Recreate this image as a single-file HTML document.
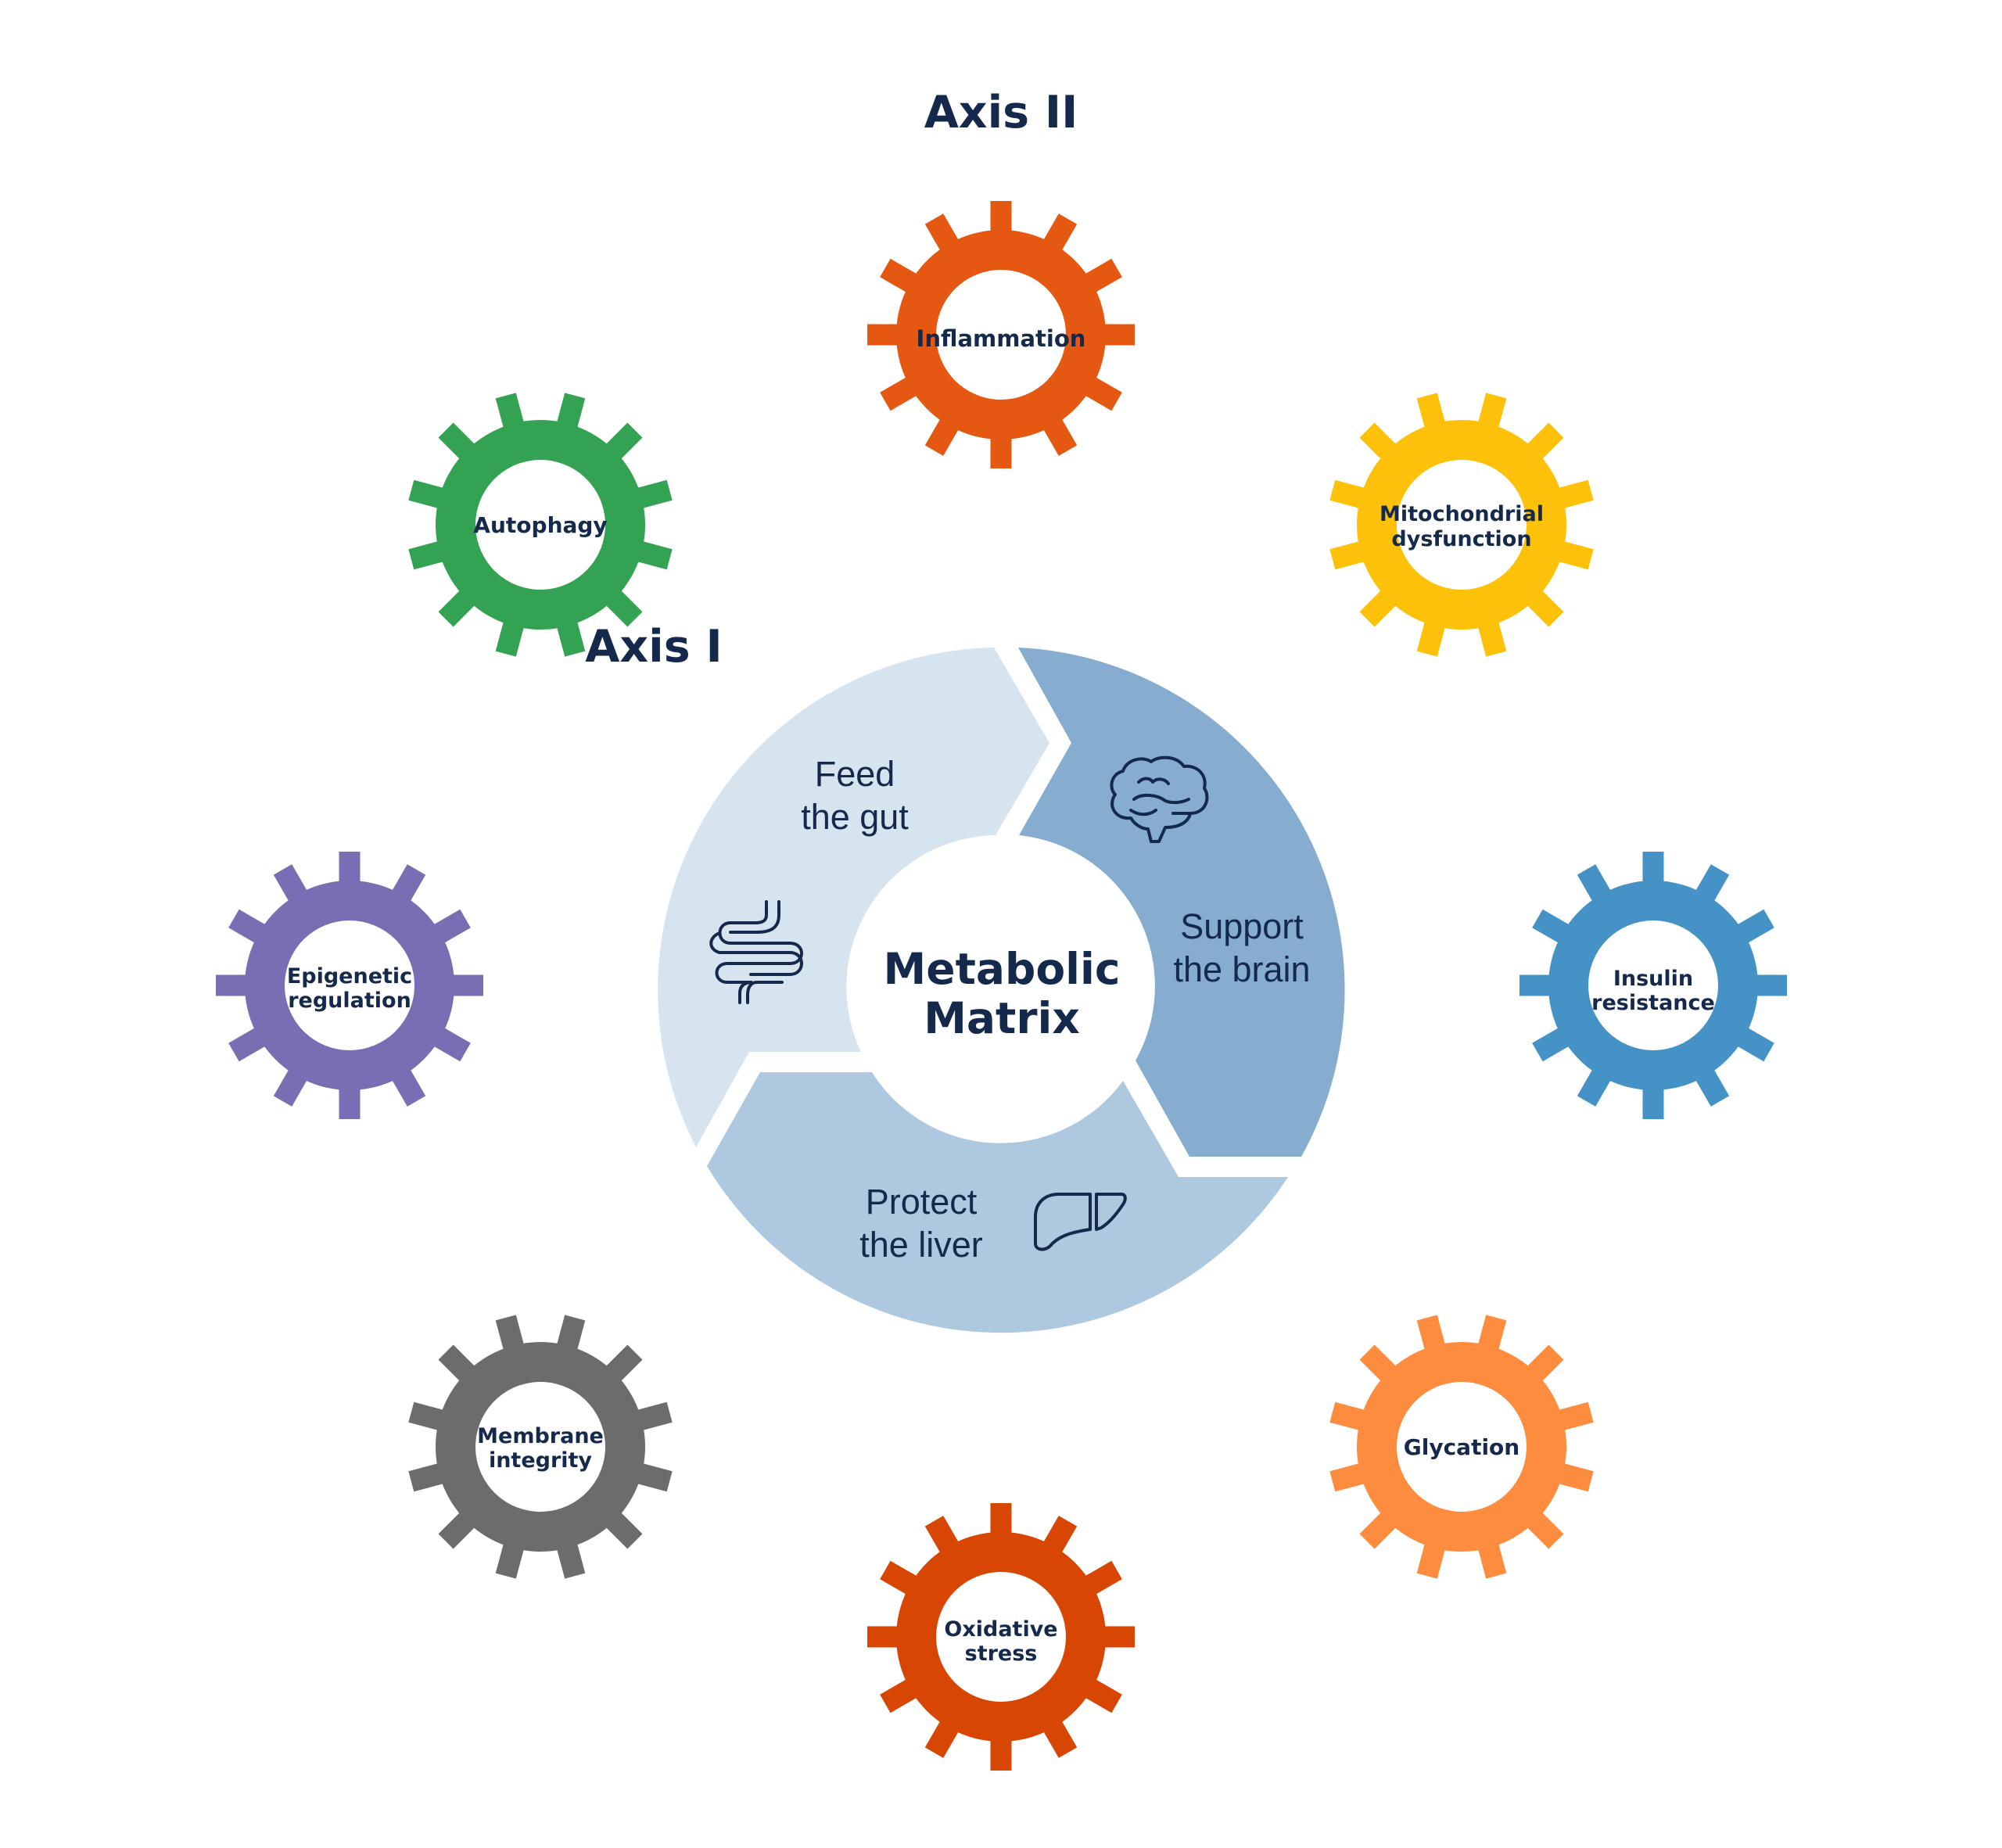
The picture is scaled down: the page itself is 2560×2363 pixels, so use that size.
<!DOCTYPE html>
<html><head><meta charset="utf-8"><style>
html,body{margin:0;padding:0;background:#fff;}
svg{display:block;}
.g{font-family:"DejaVu Sans","Liberation Sans",sans-serif;font-weight:bold;fill:#14294b;text-anchor:middle;}
.f{font-family:"Liberation Sans","DejaVu Sans",sans-serif;fill:#14294b;text-anchor:middle;font-size:45px;}
</style></head><body>
<svg width="2560" height="2363" viewBox="0 0 2560 2363" xmlns="http://www.w3.org/2000/svg">
<defs>
<g id="teeth">
<rect x="-13.5" y="-171" width="27" height="60"/>
<rect x="-13.5" y="-171" width="27" height="60" transform="rotate(30)"/>
<rect x="-13.5" y="-171" width="27" height="60" transform="rotate(60)"/>
<rect x="-13.5" y="-171" width="27" height="60" transform="rotate(90)"/>
<rect x="-13.5" y="-171" width="27" height="60" transform="rotate(120)"/>
<rect x="-13.5" y="-171" width="27" height="60" transform="rotate(150)"/>
<rect x="-13.5" y="-171" width="27" height="60" transform="rotate(180)"/>
<rect x="-13.5" y="-171" width="27" height="60" transform="rotate(210)"/>
<rect x="-13.5" y="-171" width="27" height="60" transform="rotate(240)"/>
<rect x="-13.5" y="-171" width="27" height="60" transform="rotate(270)"/>
<rect x="-13.5" y="-171" width="27" height="60" transform="rotate(300)"/>
<rect x="-13.5" y="-171" width="27" height="60" transform="rotate(330)"/>
<circle r="134"/>
</g>
</defs>

<text x="1280" y="163" class="g" font-size="57">Axis II</text>
<text x="836" y="846" class="g" font-size="57">Axis I</text>

<!-- ring -->
<path d="M 890 1467 A 438 438 0 0 1 1271 828 L 1342 950 L 1273 1068 A 194 194 0 0 0 1101 1345 L 958 1345 Z" fill="#d6e4f0"/>
<path d="M 1302 828 A 438 438 0 0 1 1664 1479 L 1521 1479 L 1452 1356 A 194 194 0 0 0 1303 1068 L 1370 950 Z" fill="#86acd0"/>
<path d="M 1647 1505 A 438 438 0 0 1 904 1491 L 972 1371 L 1115 1371 A 194 194 0 0 0 1436 1382 L 1507 1505 Z" fill="#adc8df"/>

<text x="1281" y="1258" class="g" font-size="55">Metabolic</text>
<text x="1281" y="1321" class="g" font-size="55">Matrix</text>

<text x="1093" y="1005" class="f">Feed</text>
<text x="1093" y="1060" class="f">the gut</text>
<text x="1588" y="1200" class="f">Support</text>
<text x="1588" y="1255" class="f">the brain</text>
<text x="1178" y="1552" class="f">Protect</text>
<text x="1178" y="1607" class="f">the liver</text>

<!-- brain icon -->
<g fill="none" stroke="#14294b" stroke-width="4" stroke-linecap="round" stroke-linejoin="round">
<path d="M1468 1060 L1472 1076 L1482 1076 L1490 1058 C1510 1058 1520 1050 1522 1040 C1542 1040 1548 1020 1540 1008 C1544 990 1530 978 1514 980 C1504 966 1482 966 1472 974 C1460 966 1440 972 1436 986 C1420 990 1418 1008 1426 1016 C1416 1030 1426 1048 1446 1046 C1452 1056 1462 1060 1468 1060 Z"/>
<path d="M1450 1022 C1460 1014 1480 1016 1490 1024 C1500 1028 1512 1026 1520 1022"/>
<path d="M1446 1036 C1458 1044 1470 1042 1478 1036"/>
<path d="M1456 1000 C1462 994 1470 994 1474 1000 C1480 994 1490 996 1494 1002"/>
<path d="M1500 1040 L1522 1040"/>
</g>
<!-- gut icon -->
<g fill="none" stroke="#14294b" stroke-width="4" stroke-linecap="round">
<path d="M980 1153 L980 1170 C980 1178 974 1180 966 1180 L934 1180 C916 1180 916 1206 934 1206 L1010 1206 C1030 1206 1030 1232 1010 1232 L930 1232 C912 1232 912 1256 930 1256 L962 1256 C950 1256 946 1262 946 1270 L946 1282"/>
<path d="M996 1153 L996 1170 C996 1186 986 1192 968 1192 L934 1192 M920 1218 L1010 1218 C1030 1218 1030 1246 1010 1246 L960 1246 M1000 1256 L968 1256 C958 1256 956 1266 956 1272 L956 1282"/>
<path d="M918 1194 C906 1200 906 1214 920 1218"/>
</g>
<!-- liver icon -->
<g fill="none" stroke="#14294b" stroke-width="4" stroke-linejoin="round">
<path d="M1394 1527 L1354 1527 C1336 1527 1324 1538 1324 1556 L1324 1590 C1324 1598 1334 1600 1342 1594 C1352 1582 1366 1576 1394 1572 Z"/>
<path d="M1402 1527 L1434 1527 C1440 1527 1440 1534 1436 1540 C1428 1552 1418 1564 1408 1570 L1402 1572 Z"/>
</g>

<!-- gears -->
<g fill="#e55812" transform="translate(1280,428)"><use href="#teeth"/><circle r="83" fill="#fff"/></g>
<g fill="#fdc10a" transform="translate(1869,671) rotate(15)"><use href="#teeth"/><circle r="83" fill="#fff"/></g>
<g fill="#4592c6" transform="translate(2114,1260)"><use href="#teeth"/><circle r="83" fill="#fff"/></g>
<g fill="#fd8c3e" transform="translate(1869,1850) rotate(15)"><use href="#teeth"/><circle r="83" fill="#fff"/></g>
<g fill="#d84603" transform="translate(1280,2093)"><use href="#teeth"/><circle r="83" fill="#fff"/></g>
<g fill="#6c6c6c" transform="translate(691,1850) rotate(15)"><use href="#teeth"/><circle r="83" fill="#fff"/></g>
<g fill="#7a6db3" transform="translate(447,1260)"><use href="#teeth"/><circle r="83" fill="#fff"/></g>
<g fill="#33a353" transform="translate(691,671) rotate(15)"><use href="#teeth"/><circle r="83" fill="#fff"/></g>

<text x="1280" y="443" class="g" font-size="29">Inflammation</text>
<text x="1869" y="666" class="g" font-size="27">Mitochondrial</text>
<text x="1869" y="698" class="g" font-size="27">dysfunction</text>
<text x="2114" y="1260" class="g" font-size="27">Insulin</text>
<text x="2114" y="1291" class="g" font-size="27">resistance</text>
<text x="1869" y="1860" class="g" font-size="28">Glycation</text>
<text x="1280" y="2092" class="g" font-size="27">Oxidative</text>
<text x="1280" y="2123" class="g" font-size="27">stress</text>
<text x="691" y="1845" class="g" font-size="27">Membrane</text>
<text x="691" y="1876" class="g" font-size="27">integrity</text>
<text x="447" y="1257" class="g" font-size="27">Epigenetic</text>
<text x="447" y="1288" class="g" font-size="27">regulation</text>
<text x="691" y="681" class="g" font-size="28">Autophagy</text>
</svg>
</body></html>
